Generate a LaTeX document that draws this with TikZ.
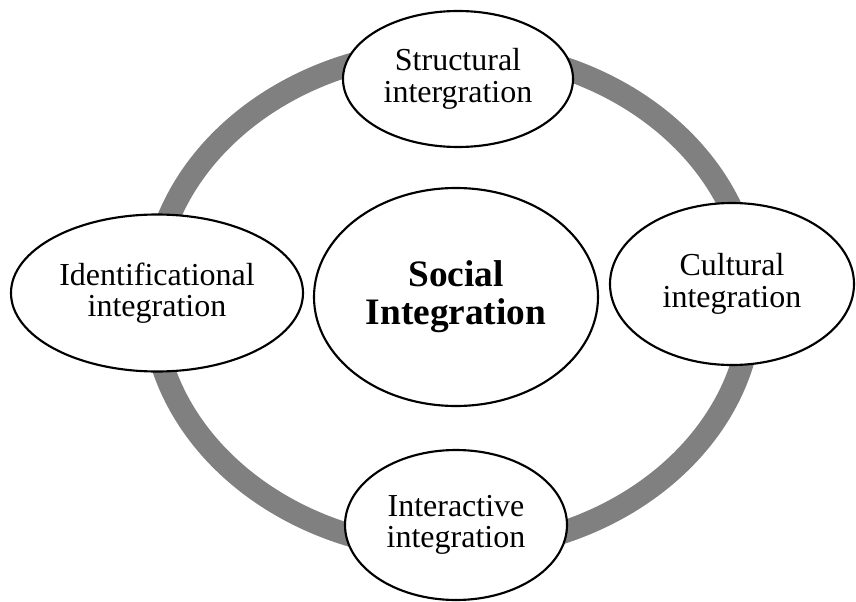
\documentclass[tikz,border=0pt]{standalone}
\usepackage{fontspec}
\setmainfont{Liberation Serif}
\usetikzlibrary{shapes.geometric, positioning}
\usepackage{xcolor}
\definecolor{ringgray}{RGB}{128, 128, 128}
\tikzset{
    dimension oval/.style={
        ellipse,
        draw=black,
        line width=1.6pt,
        fill=white,
        inner sep=0pt,
        align=center,
        font=\fontsize{24}{23.5}\selectfont
    },
    core oval/.style={
        dimension oval,
        font=\bfseries\fontsize{28}{28.5}\selectfont
    },
    ring/.style={
        draw=ringgray,
        line width=17pt
    }
}

\begin{document}
\begin{tikzpicture}[x=0.75pt, y=0.75pt]

% Canvas
\useasboundingbox (0, 0) rectangle (856, 601);

% Connecting ring behind the ovals
\draw[ring] (452, 301) ellipse [x radius=300, y radius=250];

% Centre
\node[core oval, minimum width=213pt, minimum height=163.5pt]
     (social) at (456, 304) {Social\\Integration};

% Four dimensions around the ring
\node[dimension oval, minimum width=172.5pt, minimum height=102pt]
     (structural) at (458, 522) {Structural\\intergration};
\node[dimension oval, minimum width=183pt, minimum height=121.5pt]
     (cultural) at (732, 317) {Cultural\\integration};
\node[dimension oval, minimum width=166.5pt, minimum height=112.5pt]
     (interactive) at (456, 76) {Interactive\\integration};
\node[dimension oval, minimum width=219pt, minimum height=117.75pt]
     (identificational) at (157, 308) {Identificational\\integration};

\end{tikzpicture}
\end{document}
